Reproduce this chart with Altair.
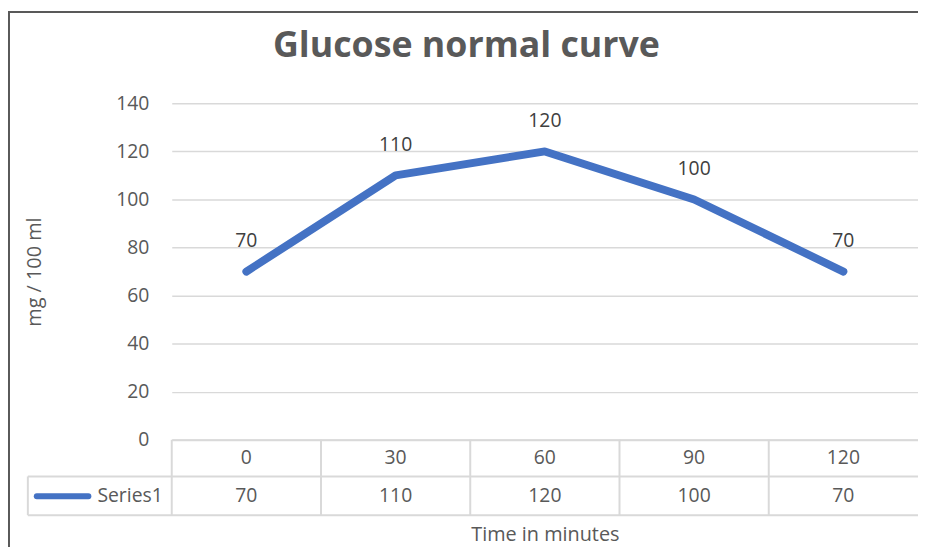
import altair as alt
import pandas as pd

# ---- data ----
times = ["0", "30", "60", "90", "120"]
glucose = [70, 110, 120, 100, 70]
y_ticks = [0, 20, 40, 60, 80, 100, 120, 140]
series_name = "Series1"
chart_title = "Glucose normal curve"
x_title = "Time in minutes"
y_title = "mg / 100 ml"

df = pd.DataFrame({"t": times, "v": glucose})
one = pd.DataFrame({"k": [0]})
legend_df = pd.DataFrame({"name": [series_name]})
title_df = pd.DataFrame({"title": [chart_title]})

# ---- layout ----
W, H = 752, 339
PL, PT, PR, PB = 165, 94, 0, 108
FONT = "Open Sans"
TXT = "#595959"
GRID = "#d9d9d9"
BLUE = "#4472C4"
FS = 19.5

xscale = alt.Scale(type="band", paddingInner=0, paddingOuter=0)
xaxis = alt.Axis(
    labelFontSize=FS, labelColor=TXT, labelFont=FONT, labelPadding=18,
    labelBaseline="middle", labelAngle=0, ticks=False, grid=False,
    domainColor=GRID, domainWidth=2,
    titleFontSize=20, titleColor=TXT, titleFont=FONT, titleFontWeight="normal",
    titleY=96, titleBaseline="middle",
)
yaxis = alt.Axis(
    values=y_ticks, labelFontSize=FS, labelColor=TXT, labelFont=FONT,
    labelPadding=23, ticks=False, domain=False, gridColor=GRID, gridWidth=1.5,
    titleFontSize=20, titleColor=TXT, titleFont=FONT, titleFontWeight="normal",
    titleX=-138, titleY=H / 2, titleAngle=-90, titleBaseline="middle", titleAlign="center",
)

def X(bp):
    return alt.X("t:N", sort=times, scale=xscale, axis=xaxis, title=x_title, bandPosition=bp)

Y = alt.Y("v:Q", scale=alt.Scale(domain=[0, 140], nice=False), axis=yaxis, title=y_title)

base = alt.Chart(df)

line = base.mark_line(color=BLUE, strokeWidth=8, strokeCap="round", strokeJoin="round").encode(
    x=X(0.5), y=Y
)
labels = base.mark_text(dy=-31, fontSize=FS, color="#404040", font=FONT).encode(
    x=X(0.5), y=Y, text="v:Q"
)
table_vals = base.mark_text(fontSize=FS, color=TXT, font=FONT, baseline="middle").encode(
    x=X(0.5), y=alt.value(396), text="v:Q"
)
dividers = base.mark_rule(color=GRID, strokeWidth=2).encode(
    x=X(0), y=alt.value(H), y2=alt.value(415)
)

def hrule(y, x0, x1, color=GRID, sw=2):
    return alt.Chart(one).mark_rule(color=color, strokeWidth=sw).encode(
        x=alt.value(x0), x2=alt.value(x1), y=alt.value(y)
    )

def vrule(x, y0, y1, color=GRID, sw=2):
    return alt.Chart(one).mark_rule(color=color, strokeWidth=sw).encode(
        x=alt.value(x), y=alt.value(y0), y2=alt.value(y1)
    )

row_top = hrule(376, -145, W + PR)
row_bot = hrule(415, -145, W + PR)
row_left = vrule(-145, 376, 415)

swatch = alt.Chart(one).mark_rule(color=BLUE, strokeWidth=6, strokeCap="round").encode(
    x=alt.value(-136), x2=alt.value(-84), y=alt.value(396)
)
legend_txt = alt.Chart(legend_df).mark_text(
    fontSize=FS, color=TXT, font=FONT, align="right", baseline="middle"
).encode(x=alt.value(-9), y=alt.value(396), text="name:N")

title_mark = alt.Chart(title_df).mark_text(
    fontSize=36, color=TXT, font=FONT, fontWeight="bold", align="center", baseline="middle"
).encode(x=alt.value(297), y=alt.value(-58), text="title:N")

border_top = hrule(-92, -165, W + PR, color="#595959", sw=2)
border_left = vrule(-164, -92, H + PB, color="#595959", sw=2)

chart = alt.layer(
    dividers, row_top, row_bot, row_left, line, labels, table_vals,
    swatch, legend_txt, title_mark, border_top, border_left,
).properties(
    width=W, height=H,
    padding={"left": PL, "top": PT, "right": PR, "bottom": PB},
    autosize=alt.AutoSizeParams(type="none"),
).configure_view(stroke=None)

chart.save("out.html", embed_options={"renderer": "svg", "actions": False})
